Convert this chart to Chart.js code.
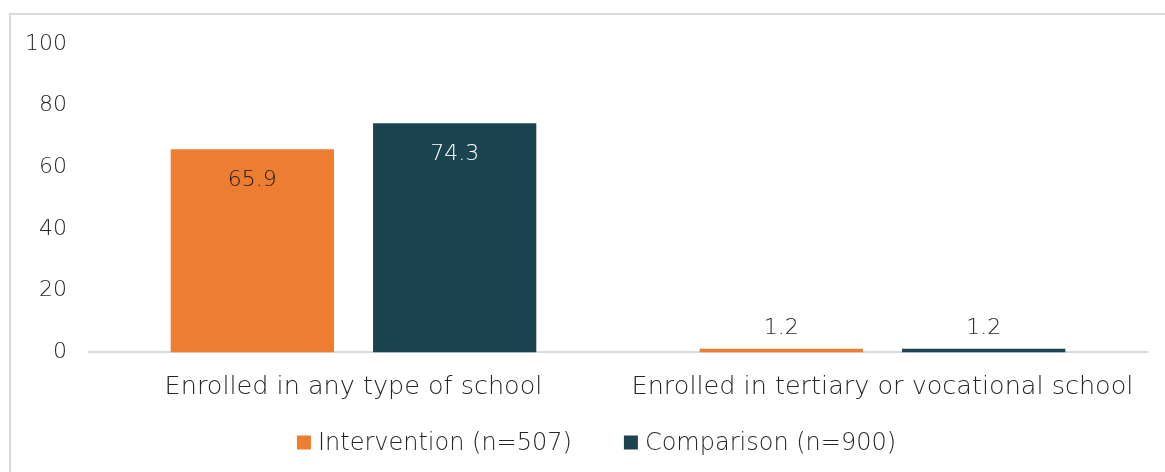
<!DOCTYPE html>
<html>
<head>
<meta charset="utf-8">
<script src="https://cdn.jsdelivr.net/npm/chart.js@4.4.1/dist/chart.umd.min.js"></script>
<style>
html,body{margin:0;padding:0;background:#fff;}
#wrap{position:relative;width:1165px;height:472px;}
</style>
</head>
<body>
<div id="wrap"><canvas id="c" width="1165" height="472"></canvas></div>
<script>
const categories = ["Enrolled in any type of school", "Enrolled in tertiary or vocational school"];
const seriesNames = ["Intervention (n=507)", "Comparison (n=900)"];
const intervention = [65.9, 1.2];
const comparison = [74.3, 1.2];
const yTicks = [0, 20, 40, 60, 80, 100];

const FONT = "'DejaVu Sans', sans-serif";
const TEXT = "#262626";
const ORANGE = "#ED7D31";
const TEAL = "#1C4450";

const frame = {
  id: 'frame',
  beforeDraw(chart) {
    const ctx = chart.ctx;
    ctx.save();
    ctx.fillStyle = '#fff';
    ctx.fillRect(0, 0, chart.width, chart.height);
    ctx.strokeStyle = '#d9d9d9';
    ctx.lineWidth = 2;
    ctx.strokeRect(10, 14, 1300, 700);
    ctx.restore();
  }
};

const labelColors = ['#1a1a1a', '#ffffff'];
const valueLabels = {
  id: 'valueLabels',
  afterDatasetsDraw(chart) {
    const ctx = chart.ctx;
    ctx.save();
    ctx.font = "300 22px " + FONT;
    ctx.textAlign = 'center';
    ctx.textBaseline = 'middle';
    chart.data.datasets.forEach((ds, di) => {
      const meta = chart.getDatasetMeta(di);
      meta.data.forEach((el, i) => {
        const v = ds.data[i];
        const txt = v.toFixed(1);
        if (v > 10) {
          ctx.fillStyle = labelColors[di];
          ctx.fillText(txt, el.x, el.y + 31);
        } else {
          ctx.fillStyle = TEXT;
          ctx.fillText(txt, el.x, el.y - 20);
        }
      });
    });
    ctx.restore();
  }
};

const bottomLegend = {
  id: 'bottomLegend',
  afterDraw(chart) {
    const ctx = chart.ctx;
    ctx.save();
    ctx.font = "300 24px " + FONT;
    ctx.textBaseline = 'middle';
    const box = 14, gap = 7, spacing = 52, cy = 442.5, cx = 596.5;
    const items = chart.data.datasets.map(ds => ({ text: ds.label, color: ds.backgroundColor, w: ctx.measureText(ds.label).width }));
    let total = 0;
    items.forEach((it, i) => { total += box + gap + it.w + (i ? spacing : 0); });
    let x = cx - total / 2;
    items.forEach(it => {
      ctx.fillStyle = it.color;
      ctx.fillRect(x, cy - box / 2, box, box);
      ctx.fillStyle = TEXT;
      ctx.fillText(it.text, x + box + gap, cy + 1);
      x += box + gap + it.w + spacing;
    });
    ctx.restore();
  }
};

new Chart(document.getElementById('c'), {
  type: 'bar',
  data: {
    labels: categories,
    datasets: [
      { label: seriesNames[0], data: intervention, backgroundColor: ORANGE, categoryPercentage: 0.765, barPercentage: 0.807 },
      { label: seriesNames[1], data: comparison, backgroundColor: TEAL, categoryPercentage: 0.765, barPercentage: 0.807 }
    ]
  },
  options: {
    responsive: false,
    animation: false,
    devicePixelRatio: 1,
    layout: { padding: { left: 26, right: 18, top: 44, bottom: 57 } },
    plugins: {
      tooltip: { enabled: false },
      legend: { display: false }
    },
    scales: {
      x: {
        grid: { display: false },
        border: { display: true, color: '#d6dce4', width: 2 },
        ticks: { font: { family: FONT, size: 25.5, weight: '300' }, color: TEXT, padding: 12 }
      },
      y: {
        min: 0,
        max: 100,
        afterBuildTicks(scale) { scale.ticks = yTicks.map(v => ({ value: v })); },
        afterFit(scale) { scale.width = 63; },
        grid: { display: false },
        border: { display: false },
        ticks: { font: { family: FONT, size: 22, weight: '300' }, color: TEXT, padding: 14 }
      }
    }
  },
  plugins: [frame, valueLabels, bottomLegend]
});
</script>
</body>
</html>
